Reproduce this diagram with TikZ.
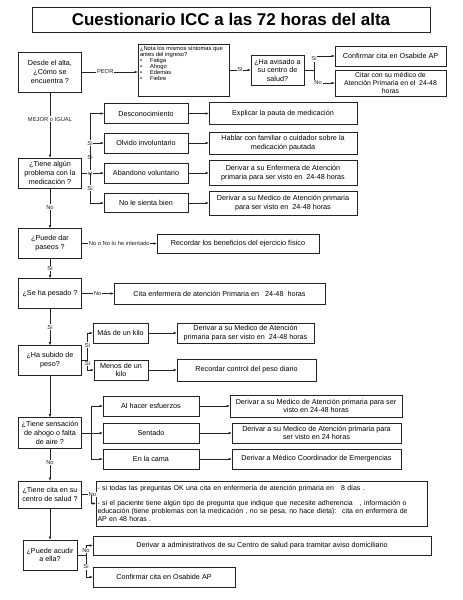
\documentclass[tikz,border=0pt]{standalone}
\usepackage{fontspec}
\setmainfont{Liberation Sans}
\usetikzlibrary{arrows.meta, positioning, calc}
\definecolor{ink}{RGB}{35,35,35}
\tikzset{
  box/.style={rectangle, draw=ink, fill=white, align=center,
    font=\fontsize{7.2}{8.5}\selectfont, line width=0.6pt, inner sep=1.5pt, outer sep=0pt},
  qbox/.style={box, minimum width=63pt, minimum height=30pt,
    font=\fontsize{7.2}{8.8}\selectfont},
  optbox/.style={box, minimum height=20pt},
  arrow/.style={-{Latex[length=3.5pt,width=2.6pt]}, line width=0.6pt, color=ink},
  line/.style={line width=0.6pt, color=ink}
}

\begin{document}
\begin{tikzpicture}[x=1pt, y=1pt,
  lbl/.style={font=\fontsize{5.8}{6.5}\selectfont, fill=white, inner sep=0.6pt}]
  \useasboundingbox (0,0) rectangle (463,-600);

  % Titulo
  \node[box, minimum width=398pt, minimum height=25pt,
    font=\fontsize{17}{18}\selectfont\bfseries] (titulo) at (231,-19.5)
    {Cuestionario ICC a las 72 horas del alta};

  % Columna principal
  \node[qbox, minimum height=40pt] (desde) at (50,-72) {Desde el alta,\\ ¿Cómo se\\ encuentra ?};
  \node[qbox, below=66pt of desde] (problema) {¿Tiene algún\\ problema con la\\ medicación ?};
  \node[qbox, below=40.5pt of problema] (paseos) {¿Puede dar\\ paseos ?};
  \node[qbox, below=20pt of paseos] (pesado) {¿Se ha pesado ?};
  \node[qbox, below=37pt of pesado] (subido) {¿Ha subido de\\ peso?};
  \node[qbox, minimum height=31pt, below=42pt of subido] (ahogo) {¿Tiene sensación\\ de ahogo o falta\\ de aire ?};
  \node[qbox, minimum height=27pt, below=32.5pt of ahogo] (cita) {¿Tiene cita en su\\ centro de salud ?};
  \node[qbox, minimum width=54pt, below=32pt of cita] (acudir) {¿Puede acudir\\ a ella?};

  % Empeora
  \node[box, minimum width=91pt, minimum height=52pt, right=56.5pt of desde, yshift=2pt] (nota)
    {\parbox[c][48pt][t]{87pt}{\fontsize{5.8}{6.1}\selectfont\raggedright
      ¿Nota los mismos síntomas que\\ antes del ingreso?\\
      \textbullet\hspace{8pt}Fatiga\\
      \textbullet\hspace{8pt}Ahogo\\
      \textbullet\hspace{8pt}Edemas\\
      \textbullet\hspace{8pt}Fiebre}};
  \node[box, minimum width=53pt, minimum height=30pt, right=22pt of nota] (avisado) {¿Ha avisado a\\ su centro de\\ salud?};
  \node[box, minimum width=111pt, minimum height=20pt, right=31pt of avisado, yshift=14pt] (confirmar) {Confirmar cita en Osabide AP};
  \node[box, minimum width=111pt, minimum height=26pt, inner ysep=1pt, right=31pt of avisado, yshift=-13pt,
    font=\fontsize{6.9}{7.7}\selectfont] (citar) {Citar con su médico de\\ Atención Primaria en el \ 24-48\\ horas};

  \draw[arrow] (desde.east) -- node[lbl, pos=0.42]{PEOR} (desde.east -| nota.west);
  \draw[arrow] (nota.east) -- node[lbl]{SI} (avisado.west);
  \draw[arrow] (avisado.east) -- ++(10,0) |- node[lbl, pos=0.4]{Si} (confirmar.west);
  \draw[arrow] (avisado.east) -- ++(10,0) |- node[lbl, pos=0.6]{No} (citar.west);

  % Medicacion
  \node[optbox, minimum width=84pt, right=22.5pt of problema, yshift=59.5pt] (desc) {Desconocimiento};
  \node[optbox, minimum width=84pt, right=22.5pt of problema, yshift=30pt] (olvido) {Olvido involuntario};
  \node[optbox, minimum width=84pt, right=22.5pt of problema] (abandono) {Abandono voluntario};
  \node[optbox, minimum width=84pt, minimum height=19pt, right=22.5pt of problema, yshift=-30pt] (sienta) {No le sienta bien};
  \node[box, minimum width=148pt, minimum height=22pt, right=21pt of desc] (explicar) {Explicar la pauta de medicación};
  \node[box, minimum width=148pt, minimum height=22pt, right=21pt of olvido] (hablar) {Hablar con familiar o cuidador sobre la\\ medicación pautada};
  \node[box, minimum width=148pt, minimum height=25pt, right=21pt of abandono] (enfermera) {Derivar a su Enfermera de Atención\\ primaria para ser visto en \ 24-48 horas};
  \node[box, minimum width=148pt, minimum height=24pt, right=21pt of sienta] (medico1) {Derivar a su Medico de Atención primaria\\ para ser visto en \ 24-48 horas};

  \coordinate (jmed) at ($(problema.east)+(8.5,0)$);
  \draw[arrow] (problema.east) -- (jmed) |- node[lbl, pos=0.13]{Si} (desc.west);
  \draw[arrow] (jmed) |- node[lbl, pos=0.5]{Si} (olvido.west);
  \draw[arrow] (problema.east) -- node[lbl, pos=0.38]{si} (abandono.west);
  \draw[arrow] (jmed) |- node[lbl, pos=0.25]{Si} (sienta.west);
  \draw[arrow] (desc) -- (explicar);
  \draw[arrow] (olvido) -- (hablar);
  \draw[arrow] (abandono) -- (enfermera);
  \draw[arrow] (sienta) -- (medico1);

  % Paseos y peso
  \node[box, minimum width=162pt, minimum height=19pt, right=75.5pt of paseos] (beneficios) {Recordar los beneficios del ejercicio físico};
  \node[box, minimum width=211pt, minimum height=21pt, right=32.5pt of pesado] (citaenf) {Cita enfermera de atención Primaria en \ \ 24-48 \ horas};
  \draw[arrow] (paseos) -- node[lbl]{No o No lo he intentado} (beneficios);
  \draw[arrow] (pesado) -- node[lbl]{No} (citaenf);

  \node[optbox, minimum width=55pt, right=11.5pt of subido, yshift=27.5pt] (maskilo) {Más de un kilo};
  \node[optbox, minimum width=54pt, right=12.5pt of subido, yshift=-9.5pt] (menoskilo) {Menos de un\\ kilo};
  \node[optbox, minimum width=137pt, right=29pt of maskilo] (medico2) {Derivar a su Medico de Atención\\ primaria para ser visto en \ 24-48 horas};
  \node[box, minimum width=139pt, minimum height=22pt, right=29pt of menoskilo] (peso) {Recordar control del peso diario};

  \coordinate (jsub) at ($(subido.east)+(6,0)$);
  \draw[arrow] (subido.east) -- (jsub) |- node[lbl, pos=0.28]{Si} (maskilo.west);
  \draw[arrow] (jsub) |- node[lbl, pos=0.17]{Si} (menoskilo.west);
  \draw[arrow] (maskilo) -- (medico2);
  \draw[arrow] (menoskilo) -- (peso);

  % Ahogo
  \node[optbox, minimum width=96pt, right=21.5pt of ahogo, yshift=27pt] (esfuerzo) {Al hacer esfuerzos};
  \node[optbox, minimum width=96pt, right=21.5pt of ahogo] (sentado) {Sentado};
  \node[optbox, minimum width=96pt, right=21.5pt of ahogo, yshift=-26pt] (cama) {En la cama};
  \node[box, minimum width=172pt, minimum height=22pt, right=31pt of esfuerzo] (medico3) {Derivar a su Medico de Atención primaria para ser\\ visto en 24-48 horas};
  \node[optbox, minimum width=169pt, right=33pt of sentado] (medico4) {Derivar a su Medico de Atención primaria para\\ ser visto en 24 horas};
  \node[optbox, minimum width=169pt, right=33pt of cama] (emergencias) {Derivar a Médico Coordinador de Emergencias};

  \coordinate (jaho) at ($(ahogo.east)+(9.5,0)$);
  \draw[arrow] (ahogo.east) -- (jaho) |- (esfuerzo.west);
  \draw[arrow] (ahogo) -- (sentado);
  \draw[arrow] (jaho) |- (cama.west);
  \draw[arrow] (esfuerzo) -- (medico3);
  \draw[arrow] (sentado) -- (medico4);
  \draw[arrow] (cama) -- (emergencias);

  % Cita
  \node[box, minimum width=331pt, minimum height=45pt, text width=328pt, align=left,
    font=\fontsize{7}{7.6}\selectfont, right=14.5pt of cita, yshift=-9pt] (consejo)
    {- si todas las preguntas OK una cita en enfermería de atención primaria en \ \ 8 días .\\[7.4pt]
     - si el paciente tiene algún tipo de pregunta que indique que necesite adherencia \ \ , información o\\
     educación (tiene problemas con la medicación , no se pesa, no hace dieta): \ cita en enfermera de\\
     AP en 48 horas .};
  \coordinate (jcita) at ($(cita.east)+(9.5,0)$);
  \draw[arrow] (cita.east) -- node[lbl, pos=0.75]{No} (cita.east -| consejo.west);
  \draw[arrow] (jcita) |- (consejo.west);

  % Acudir
  \node[box, minimum width=338pt, minimum height=19pt, right=16pt of acudir, yshift=9.5pt] (admin) {Derivar a administrativos de su Centro de salud para tramitar aviso domiciliario};
  \node[optbox, minimum width=142pt, right=16pt of acudir, yshift=-22pt] (osabide) {Confirmar cita en Osabide AP};

  \coordinate (jacu) at ($(acudir.east)+(9,0)$);
  \draw[arrow] (acudir.east) -- (jacu) |- node[lbl, pos=0.24]{No} (admin.west);
  \draw[arrow] (jacu) |- node[lbl, pos=0.27]{Si} (osabide.west);

  % Linea principal
  \draw[arrow] (desde) -- node[lbl, pos=0.41]{MEJOR o IGUAL} (problema);
  \draw[arrow] (problema) -- node[lbl, pos=0.47]{No} (paseos);
  \draw[arrow] (paseos) -- node[lbl]{Si} (pesado);
  \draw[arrow] (pesado) -- node[lbl]{Si} (subido);
  \draw[arrow] (subido) -- (ahogo);
  \draw[arrow] (ahogo) -- node[lbl, pos=0.42]{No} (cita);
  \draw[arrow] (cita) -- (acudir);
\end{tikzpicture}
\end{document}
